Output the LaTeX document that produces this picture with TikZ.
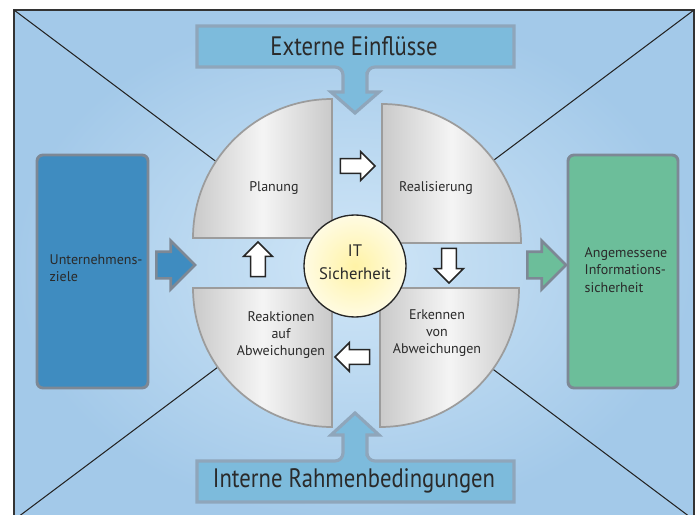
\documentclass[tikz,border=0pt]{standalone}
\usepackage{fontspec}
\setmainfont{PT Sans}
\usetikzlibrary{shapes.arrows}

\definecolor{bgout}{HTML}{A3C9E9}
\definecolor{bgin}{HTML}{D0E6F7}
\definecolor{titleblue}{HTML}{7DBBDC}
\definecolor{titleedge}{HTML}{8FA6BB}
\definecolor{goalblue}{HTML}{3F8CC0}
\definecolor{resultgreen}{HTML}{6CBE9A}
\definecolor{sideedge}{HTML}{7D8895}
\definecolor{pieceedge}{HTML}{9C9C9C}
\definecolor{itin}{HTML}{FFF3A6}
\definecolor{itout}{HTML}{FFFBE2}
\definecolor{textgray}{HTML}{2A2A2A}

\newcommand{\schmal}[1]{\scalebox{0.85}[1]{#1}}

\begin{document}
\begin{tikzpicture}[x=0.75pt, y=-0.75pt,
    titlebox/.style={fill=titleblue, draw=titleedge, line width=2.4pt},
    sidebox/.style={draw=sideedge, line width=2.2pt, rounded corners=4.5pt},
    piece/.style={draw=pieceedge, line width=1.3pt, left color=gray!42, right color=gray!42, middle color=gray!8},
    bigarrow/.style={single arrow, draw=sideedge, line width=2pt, inner xsep=0pt, inner ysep=9pt,
        single arrow head extend=8.25pt, minimum height=29pt},
    smallarrow/.style={single arrow, draw=black!85, fill=white, line width=1.2pt, inner xsep=0pt, inner ysep=4.9pt,
        single arrow head extend=5.25pt, minimum height=26pt},
    label/.style={font=\fontsize{10.5}{13}\selectfont, text=textgray, align=center},
    title/.style={font=\fontsize{20}{24}\selectfont, text=textgray}]

    \clip (0,0) rectangle (696,514);

    % 背景と対角線
    \coordinate (tl) at (14,10);
    \coordinate (tr) at (694,10);
    \coordinate (bl) at (14,520);
    \coordinate (br) at (694,520);
    \shade[inner color=bgin, outer color=bgout] (tl) rectangle (br);
    \draw[black!80, line width=0.8pt] (tl) rectangle (br);
    \draw[black!85, line width=0.8pt] (tl) -- (br);
    \draw[black!85, line width=0.8pt] (tr) -- (bl);

    % 上下の枠と矢印
    \draw[titlebox] (197,26) -- (514,26) -- (514,67) -- (400,67) [rounded corners=6pt] -- (367,67) -- (367,80)
        [sharp corners] -- (367,92) -- (379,92) -- (355,113) -- (331,92) -- (343,92) -- (343,80)
        [rounded corners=6pt] -- (343,67) -- (310,67) [sharp corners] -- (197,67) -- cycle;
    \draw[titlebox] (197,502) -- (514,502) -- (514,461) -- (400,461) [rounded corners=6pt] -- (367,461) -- (367,448)
        [sharp corners] -- (367,435) -- (379,435) -- (355,413) -- (331,435) -- (343,435) -- (343,448)
        [rounded corners=6pt] -- (343,461) -- (310,461) [sharp corners] -- (197,461) -- cycle;
    \node[title] (extern) at (354,46) {\schmal{Externe Einflüsse}};
    \node[title] (intern) at (354,481) {\schmal{Interne Rahmenbedingungen}};

    % 左右の箱
    \draw[sidebox, fill=goalblue] (37,155) rectangle (148,388);
    \draw[sidebox, fill=resultgreen] (568,155) rectangle (678,388);
    \node[label, align=left, anchor=west] (goal) at (45,268) {Unternehmens-\\ziele};
    \node[label, align=left, anchor=west] (result) at (580,270) {Angemessene\\Informations-\\sicherheit};
    \node[bigarrow, fill=goalblue] (inarrow) at (169,265) {};
    \node[bigarrow, fill=resultgreen] (outarrow) at (540,265) {};

    % 四つの扇形
    \draw[piece] (332,238) -- (193,238) arc[start angle=180, end angle=270, radius=139] -- cycle;
    \draw[piece] (382,243) -- (382,104) arc[start angle=270, end angle=360, radius=139] -- cycle;
    \draw[piece] (332,288) -- (193,288) arc[start angle=180, end angle=90, radius=139] -- cycle;
    \draw[piece] (380,288) -- (519,288) arc[start angle=0, end angle=90, radius=139] -- cycle;

    \node[label] (plan) at (274,188) {Planung};
    \node[label] (real) at (436,188) {Realisierung};
    \node[label] (react) at (281,335) {Reaktionen\\auf\\Abweichungen};
    \node[label] (detect) at (437,333) {Erkennen\\von\\Abweichungen};

    % 中央の円
    \shade[draw=black!85, line width=1pt, inner color=itin, outer color=itout] (355,266) circle[radius=51];
    \node[font=\fontsize{12.5}{17}\selectfont, text=textgray, align=center] (it) at (355,262) {IT\\Sicherheit};

    % 白抜きの矢印
    \node[smallarrow] (a1) at (354,166) {};
    \node[smallarrow, rotate=-90] (a2) at (449,262) {};
    \node[smallarrow, rotate=180] (a3) at (356,357) {};
    \node[smallarrow, rotate=90] (a4) at (258,263) {};

  \end{tikzpicture}
\end{document}
